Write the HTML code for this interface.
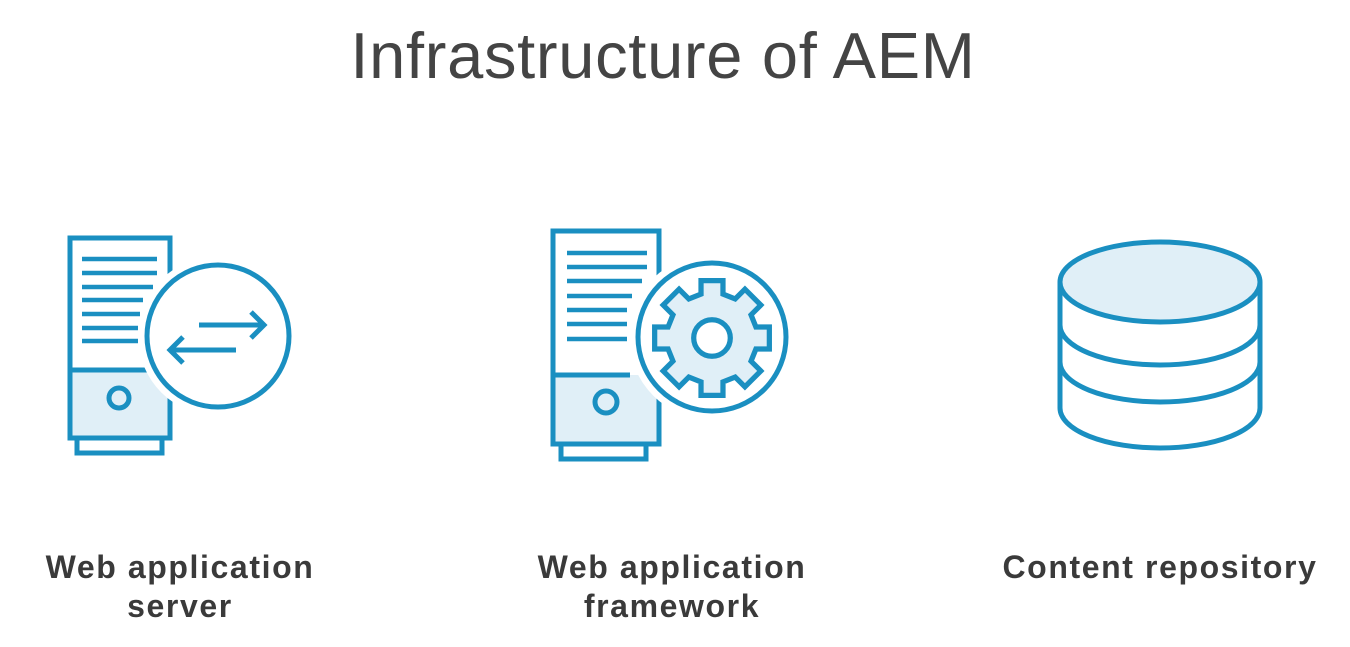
<!DOCTYPE html>
<html><head><style>
body{margin:0;width:1350px;height:647px;background:#fff;overflow:hidden;font-family:"Liberation Sans",sans-serif;}
.t{position:absolute;top:18px;left:0;width:1326px;text-align:center;font-size:65px;color:#444;letter-spacing:0.7px;font-weight:normal;white-space:nowrap;}
.l{position:absolute;font-size:32px;font-weight:bold;color:#3a3a3a;text-align:center;line-height:39px;letter-spacing:1.6px;white-space:nowrap;}
</style></head><body>
<div class="t">Infrastructure of AEM</div>
<svg width="1350" height="647" style="position:absolute;left:0;top:0" fill="none" stroke="#1a8fc1" stroke-width="5">
<!-- icon 1 -->
<rect x="77" y="438" width="85" height="15" stroke-width="5"/>
<rect x="70" y="370" width="100" height="68" fill="#e0eff7" stroke="none"/>
<rect x="70" y="238" width="100" height="200"/>
<line x1="70" y1="370" x2="170" y2="370"/>
<circle cx="119" cy="398" r="10"/>
<g stroke-width="4.5">
<line x1="82" y1="259" x2="157" y2="259"/><line x1="82" y1="273" x2="157" y2="273"/><line x1="82" y1="287" x2="153" y2="287"/><line x1="82" y1="300" x2="143" y2="300"/><line x1="82" y1="314" x2="140" y2="314"/><line x1="82" y1="328" x2="138" y2="328"/><line x1="82" y1="341" x2="138" y2="341"/>
</g>
<circle cx="218" cy="336" r="80" fill="#fff" stroke="none"/>
<circle cx="218" cy="336" r="71" fill="#fff"/>
<path d="M199 325 H264 M251 312 L264 325 L251 338 M236 350 H170 M183 337 L170 350 L183 363"/>
<!-- icon 2 -->
<rect x="561" y="444" width="85" height="15"/>
<rect x="553" y="375" width="105" height="69" fill="#e0eff7" stroke="none"/>
<rect x="553" y="231" width="106" height="213"/>
<line x1="553" y1="375" x2="630" y2="375"/>
<circle cx="606" cy="402" r="11"/>
<g stroke-width="4.5">
<line x1="567" y1="253" x2="647" y2="253"/><line x1="567" y1="267" x2="647" y2="267"/><line x1="567" y1="281" x2="642" y2="281"/><line x1="567" y1="296" x2="632" y2="296"/><line x1="567" y1="310" x2="627" y2="310"/><line x1="567" y1="324" x2="627" y2="324"/><line x1="567" y1="339" x2="627" y2="339"/>
</g>
<circle cx="712" cy="337" r="83" fill="#fff" stroke="none"/>
<circle cx="712" cy="337" r="74" fill="#fff"/>
<g transform="translate(712 338) scale(1.22) translate(-712 -333)">
<path fill="#e0eff7" stroke-width="4.3" d="M703 286 H721 V297 L731 301 L739 293 L752 306 L744 314 L748 324 H759 V342 H748 L744 352 L752 360 L739 373 L731 365 L721 369 V380 H703 V369 L693 365 L685 373 L672 360 L680 352 L676 342 H665 V324 H676 L680 314 L672 306 L685 293 L693 301 L703 297 Z" stroke-linejoin="miter"/>
<circle cx="712" cy="333" r="15" fill="#fff" stroke-width="4.3"/>
</g>
<!-- database -->
<path d="M1060 282 V408 A100 40 0 0 0 1260 408 V282"/>
<path d="M1060 325 A100 40 0 0 0 1260 325 M1060 362 A100 40 0 0 0 1260 362"/>
<ellipse cx="1160" cy="282" rx="100" ry="40" fill="#e0eff7"/>
</svg>
<div class="l" style="left:0px;top:548px;width:360px">Web application<br>server</div>
<div class="l" style="left:492px;top:548px;width:360px">Web application<br>framework</div>
<div class="l" style="left:960px;top:548px;width:400px">Content repository</div>
</body></html>
